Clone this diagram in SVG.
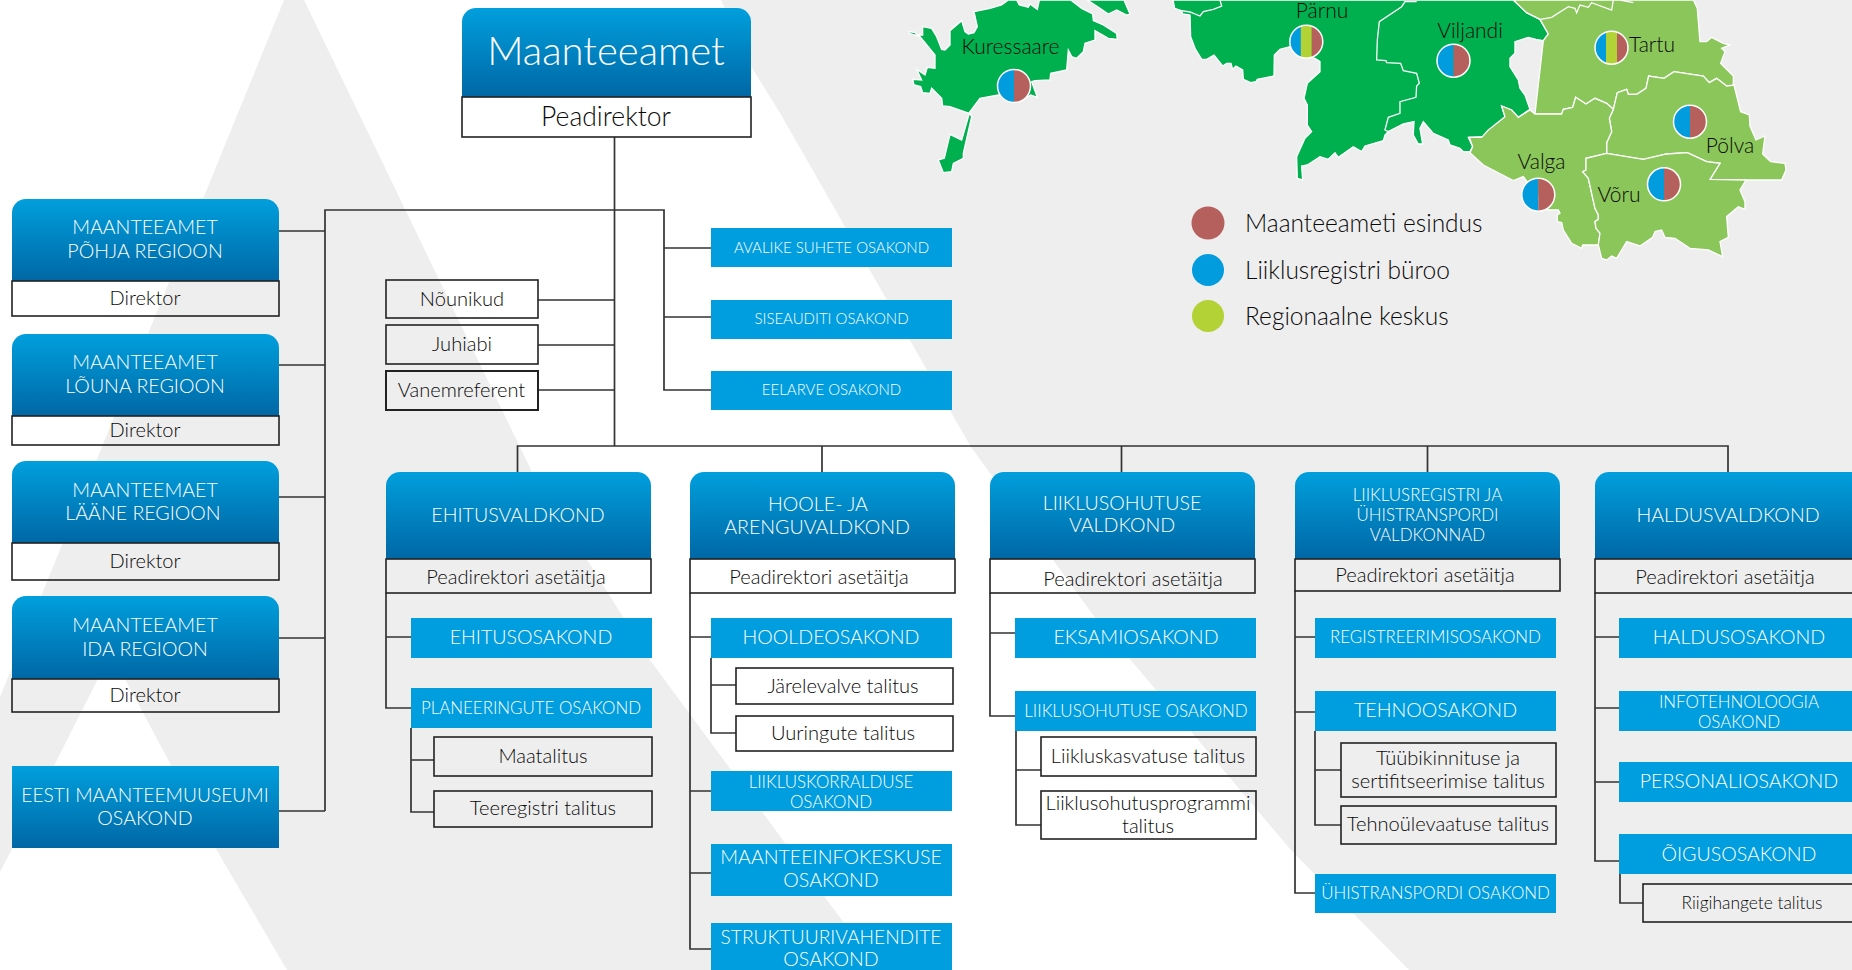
<svg xmlns="http://www.w3.org/2000/svg" width="1852" height="970" viewBox="0 0 1852 970">
<style>
text{font-family:"Lato","Noto Sans","Liberation Sans",sans-serif;font-weight:300;text-anchor:middle}
.w{fill:#fff}.k{fill:#0a0a0a}
.f40{font-size:40px}.f26{font-size:26.5px}.f20{font-size:19.6px}.f19{font-size:20.1px}.f21{font-size:21px}.fd{font-size:20px}.f17{font-size:16.9px}.f15{font-size:15px}.f24{font-size:24.5px;text-anchor:start}
.g{fill:url(#grad)}.b{fill:#009ddf}.o{fill:none;stroke:#222;stroke-width:1.6}
.c{fill:none;stroke:#333;stroke-width:1.7}
.m1{fill:#00b04f;stroke:#fff;stroke-width:1.3;vector-effect:non-scaling-stroke}
.m2{fill:#8ac65a;stroke:#fff;stroke-width:1.3;vector-effect:non-scaling-stroke}
.ml2{fill:none;stroke:#fff;stroke-width:1.3;vector-effect:non-scaling-stroke}
.mr{fill:#b5605c}.mb{fill:#009cde}.ml{fill:#b2d235}
.ring{fill:none;stroke:#fff;stroke-width:1.5}
</style>
<defs>
<linearGradient id="grad" x1="0" y1="0" x2="0" y2="1"><stop offset="0" stop-color="#009fdd"/><stop offset="1" stop-color="#0067a5"/></linearGradient>
<clipPath id="cc"><circle r="16.5"/></clipPath>
<g id="pie2"><g clip-path="url(#cc)"><rect x="-17" y="-17" width="17" height="34" class="mb"/><rect x="0" y="-17" width="17" height="34" class="mr"/></g><circle r="16.5" class="ring"/></g>
<g id="pie3"><g clip-path="url(#cc)"><rect x="-17" y="-17" width="12" height="34" class="mb"/><rect x="-5.5" y="-17" width="11" height="34" class="ml"/><rect x="5.5" y="-17" width="12" height="34" class="mr"/></g><circle r="16.5" class="ring"/></g>
</defs>
<rect width="1852" height="970" fill="#fff"/>
<g id="background" fill="#eeeeee">
<polygon points="284,0 304,0 532,472 650,660 844,923 880,970 287,970 216,849 111,653 12,849 0,872 0,697"/>
<polygon points="721,0 1852,0 1852,970 1409,970 1290,849 1156,690 1096,619 971,447 780,113 749,63"/>
</g>
<g id="map">
<g transform="translate(900 0) scale(0.3333)">
<polygon class="m1" points="28,95 45,98 52,105 68,105 68,80 95,85 110,110 125,148 135,150 150,135 150,92 185,62 195,95 205,102 222,98 232,80 222,35 270,25 305,15 325,0 350,0 358,15 385,22 390,12 412,28 418,0 512,0 545,25 578,42 580,62 610,75 650,100 652,118 625,115 585,92 585,120 555,130 550,155 530,175 515,170 505,150 500,210 452,220 450,240 405,242 395,245 412,292 392,285 375,295 345,305 295,285 240,295 208,338 215,350 190,460 190,475 160,490 155,515 130,518 115,480 133,475 150,403 185,420 208,340 150,320 128,318 125,295 95,265 90,280 68,278 62,260 42,255 38,238 65,240 50,208 75,225 82,202 105,205 105,165 60,110 28,100"/>
<polygon class="m1" points="562,0 672,0 690,42 680,45 650,30 625,42 600,25"/>
</g>
<g transform="translate(1170 0) scale(0.3333)">
<polygon class="m1" points="9,0 1030,0 1070,38 1110,58 1135,102 1120,122 1098,118 1075,112 1035,125 1035,160 1020,175 1020,200 1045,240 1050,265 1065,285 1080,328 1045,352 1025,330 995,318 1005,350 940,410 895,412 908,440 900,455 880,455 870,445 840,435 835,420 790,400 760,365 750,385 758,432 745,432 730,405 732,365 700,372 655,395 645,405 640,422 585,438 575,455 550,440 505,472 495,458 475,478 450,470 412,495 395,498 398,540 382,535 380,470 405,415 425,395 412,375 412,315 402,295 412,250 450,215 450,185 440,178 360,140 330,148 313,165 312,228 262,238 258,245 242,248 220,238 218,210 198,198 188,208 183,190 170,190 158,198 132,165 110,178 95,178 75,145 62,110 60,45 38,42 35,32 14,25"/>
<polyline class="ml2" points="35,32 60,36 90,48 100,35 130,28 155,18 150,0"/>
<polyline class="ml2" points="740,5 705,5 695,20 628,65 622,120 620,180 648,182 650,188 692,190 700,212 740,220 748,250 740,258 738,292 690,305 690,340 655,352 645,390 655,395"/>
</g>
<g transform="translate(1460 0) scale(0.3333)">
<polygon class="m2" points="160,0 700,0 712,25 720,125 740,125 755,112 790,130 810,135 785,145 795,155 782,190 820,228 820,258 800,258 770,235 748,248 730,228 642,215 612,235 566,228 558,265 530,283 505,283 500,268 472,278 460,328 440,310 405,295 378,312 347,292 338,322 310,328 305,342 225,342 250,122 265,102 240,58 200,38"/>
<polyline class="ml2" points="242,58 275,52 325,20 345,25 350,38 360,15 385,22 395,8 455,30 460,0"/>
<polyline class="ml2" points="480,0 520,8"/>
<polygon class="m2" points="460,328 472,278 500,268 505,283 530,283 558,265 566,228 612,235 642,215 730,228 748,248 770,235 800,258 822,255 842,335 868,345 870,378 888,420 915,408 908,462 932,485 975,490 978,510 965,540 858,540 750,538 780,490 740,485 682,458 620,462 550,478 440,460 440,428 455,395 448,355"/>
<polygon class="m2" points="210,330 225,342 305,342 310,328 338,322 347,292 378,312 405,295 440,310 460,328 448,355 455,395 440,428 440,460 378,475 378,510 368,515 385,535 405,625 415,645 415,658 405,665 408,685 420,700 415,735 368,735 365,745 335,730 310,690 305,668 292,665 292,645 300,640 295,630 265,630 190,530 160,542 70,495 30,458 38,440 28,412 65,412 85,390 135,350 125,318 155,330 175,352"/>
<polygon class="m2" points="440,460 550,478 620,462 682,458 740,485 780,490 750,538 858,540 840,570 855,605 855,628 835,620 800,650 805,712 780,725 788,770 745,750 690,745 645,715 615,712 605,690 585,695 578,712 540,738 500,725 470,775 455,768 440,780 425,775 415,735 420,700 408,685 405,665 415,658 415,645 405,625 385,535 368,515 378,510 378,475"/>
</g>
<use href="#pie2" x="1014" y="86"/>
<use href="#pie3" x="1306.3" y="41.7"/>
<use href="#pie2" x="1453.5" y="60.7"/>
<use href="#pie3" x="1611.5" y="47.7"/>
<use href="#pie2" x="1690" y="121.7"/>
<use href="#pie2" x="1538.3" y="194.7"/>
<use href="#pie2" x="1664" y="184.3"/>
<text class="k f21" x="1322" y="17.5">Pärnu</text>
<text class="k f21" x="1010.5" y="54">Kuressaare</text>
<text class="k f21" x="1470" y="37.5">Viljandi</text>
<text class="k f21" x="1652" y="52">Tartu</text>
<text class="k f21" x="1730" y="153">Põlva</text>
<text class="k f21" x="1541.5" y="169">Valga</text>
<text class="k f21" x="1619" y="201.5">Võru</text>
</g>
<g id="legend">
<circle class="mr" cx="1208" cy="223" r="16.5"/><text class="k f24" x="1245" y="232">Maanteeameti esindus</text>
<circle class="mb" cx="1208" cy="270" r="16"/><text class="k f24" x="1245" y="279">Liiklusregistri büroo</text>
<circle class="ml" cx="1208" cy="316" r="16"/><text class="k f24" x="1245" y="325">Regionaalne keskus</text>
</g>
<g id="connectors" class="c">
<path d="M614.5 137V446M325 811V210H664V390H711M664 248H711M664 317H711M538 300H614M538 345H614M538 390H614"/>
<path d="M279 231H325M279 365H325M279 497H325M279 638H325M279 811H325"/>
<path d="M517.5 473V446H1728V473M822 446V473M1121.5 446V473M1427.5 446V473"/>
<path d="M386 593V708H411M386 637H411M411 728V812H434M411 760H434"/>
<path d="M690 593V949H711M690 637H711M690 791H711M690 873H711M711 658V733H736M711 685H736"/>
<path d="M990 593V716H1015M990 633H1015M1016 731V825H1041M1016 770H1041"/>
<path d="M1295 591V893H1315M1295 637H1315M1295 712H1315M1315 731V825H1341M1315 770H1341"/>
<path d="M1595 593V861H1619M1595 637H1619M1595 708H1619M1595 782H1619M1620 874V903H1643"/>
</g>
<g id="n-maanteeamet">
<path class="g" d="M462 97V22a14 14 0 0 1 14-14H737a14 14 0 0 1 14 14V97Z"/>
<rect class="o" x="462" y="97" width="289" height="40"/>
<text class="w f40" x="606" y="65">Maanteeamet</text>
<text class="k f26" x="606" y="126">Peadirektor</text>
</g>
<g id="n-pohja">
<path class="g" d="M12 281V213a14 14 0 0 1 14-14H265a14 14 0 0 1 14 14V281Z"/>
<rect class="o" x="12" y="281" width="267" height="35"/>
<text class="w f20" x="145" y="234">MAANTEEAMET</text><text class="w f20" x="145" y="258">PÕHJA REGIOON</text>
<text class="k fd" x="145" y="305">Direktor</text>
</g>
<g id="n-louna">
<path class="g" d="M12 416V348a14 14 0 0 1 14-14H265a14 14 0 0 1 14 14V416Z"/>
<rect class="o" x="12" y="416" width="267" height="29"/>
<text class="w f20" x="145" y="369">MAANTEEAMET</text><text class="w f20" x="145" y="393">LÕUNA REGIOON</text>
<text class="k fd" x="145" y="437">Direktor</text>
</g>
<g id="n-laane">
<path class="g" d="M12 543V475a14 14 0 0 1 14-14H265a14 14 0 0 1 14 14V543Z"/>
<rect class="o" x="12" y="543" width="267" height="37"/>
<text class="w f20" x="145" y="497">MAANTEEMAET</text><text class="w f20" x="143" y="520">LÄÄNE REGIOON</text>
<text class="k fd" x="145" y="568">Direktor</text>
</g>
<g id="n-ida">
<path class="g" d="M12 679V610a14 14 0 0 1 14-14H265a14 14 0 0 1 14 14V679Z"/>
<rect class="o" x="12" y="679" width="267" height="33"/>
<text class="w f20" x="145" y="632">MAANTEEAMET</text><text class="w f20" x="145" y="656">IDA REGIOON</text>
<text class="k fd" x="145" y="702">Direktor</text>
</g>
<g id="n-muuseum">
<rect class="g" x="12" y="766" width="267" height="82"/>
<text class="w" style="font-size:19.2px" x="145" y="802">EESTI MAANTEEMUUSEUMI</text><text class="w f20" x="145" y="825">OSAKOND</text>
</g>
<g id="n-nounikud"><rect class="o" x="386" y="280" width="152" height="38"/><text class="k f19" x="462" y="306">Nõunikud</text></g>
<g id="n-juhiabi"><rect class="o" x="386" y="325" width="152" height="39"/><text class="k f19" x="462" y="351">Juhiabi</text></g>
<g id="n-vanemreferent"><rect class="o" style="stroke-width:2" x="386" y="371" width="152" height="39"/><text class="k fd" x="461.5" y="397">Vanemreferent</text></g>
<g id="n-avalike"><rect class="b" x="711" y="228" width="241" height="39"/><text class="w f15" x="831.5" y="253">AVALIKE SUHETE OSAKOND</text></g>
<g id="n-siseaudit"><rect class="b" x="711" y="300" width="241" height="39"/><text class="w f15" x="831.5" y="324">SISEAUDITI OSAKOND</text></g>
<g id="n-eelarve"><rect class="b" x="711" y="371" width="241" height="39"/><text class="w f15" x="831.5" y="395">EELARVE OSAKOND</text></g>

<g id="n-ehitus">
<path class="g" d="M386 559V486a14 14 0 0 1 14-14H637a14 14 0 0 1 14 14V559Z"/>
<rect class="o" x="386" y="559" width="265" height="34"/>
<text class="w f20" x="518" y="522">EHITUSVALDKOND</text><text class="k f19" x="516" y="584">Peadirektori asetäitja</text>
</g>
<g id="n-ehitusosakond"><rect class="b" x="411" y="618" width="241" height="40"/><text class="w f20" x="531" y="644">EHITUSOSAKOND</text></g>
<g id="n-planeeringute"><rect class="b" x="411" y="688" width="241" height="40"/><text class="w f17" x="531" y="714">PLANEERINGUTE OSAKOND</text></g>
<g id="n-maatalitus"><rect class="o" x="434" y="737" width="218" height="39"/><text class="k f19" x="543" y="763">Maatalitus</text></g>
<g id="n-teeregister"><rect class="o" x="434" y="791" width="218" height="36"/><text class="k f19" x="543" y="815">Teeregistri talitus</text></g>

<g id="n-hoole">
<path class="g" d="M690 559V486a14 14 0 0 1 14-14H941a14 14 0 0 1 14 14V559Z"/>
<rect class="o" x="690" y="559" width="265" height="34"/>
<text class="w f20" x="818" y="511">HOOLE- JA</text><text class="w f20" x="817" y="534">ARENGUVALDKOND</text><text class="k f19" x="819" y="584">Peadirektori asetäitja</text>
</g>
<g id="n-hoolde"><rect class="b" x="711" y="618" width="241" height="40"/><text class="w f20" x="831" y="644">HOOLDEOSAKOND</text></g>
<g id="n-jarelevalve"><rect class="o" x="736" y="668" width="217" height="36"/><text class="k f19" x="843" y="693">Järelevalve talitus</text></g>
<g id="n-uuringute"><rect class="o" x="736" y="716" width="217" height="35"/><text class="k f19" x="843" y="740">Uuringute talitus</text></g>
<g id="n-liikluskorraldus"><rect class="b" x="711" y="771" width="241" height="40"/><text class="w f17" x="831" y="788">LIIKLUSKORRALDUSE</text><text class="w f17" x="831" y="808">OSAKOND</text></g>
<g id="n-maanteeinfo"><rect class="b" x="711" y="844" width="241" height="52"/><text class="w f20" x="831" y="864">MAANTEEINFOKESKUSE</text><text class="w f20" x="831" y="887">OSAKOND</text></g>
<g id="n-struktuuri"><rect class="b" x="711" y="923" width="241" height="47"/><text class="w" style="font-size:19.2px" x="831" y="944">STRUKTUURIVAHENDITE</text><text class="w f20" x="831" y="966">OSAKOND</text></g>

<g id="n-liiklusohutus">
<path class="g" d="M990 559V486a14 14 0 0 1 14-14H1241a14 14 0 0 1 14 14V559Z"/>
<rect class="o" x="990" y="559" width="265" height="34"/>
<text class="w f20" x="1122" y="510">LIIKLUSOHUTUSE</text><text class="w f20" x="1122" y="532">VALDKOND</text><text class="k f19" x="1133" y="585.5">Peadirektori asetäitja</text>
</g>
<g id="n-eksami"><rect class="b" x="1015" y="618" width="241" height="40"/><text class="w f20" x="1136" y="644">EKSAMIOSAKOND</text></g>
<g id="n-liiklusohutus-os"><rect class="b" x="1015" y="691" width="241" height="40"/><text class="w f17" x="1136" y="717">LIIKLUSOHUTUSE OSAKOND</text></g>
<g id="n-liikluskasvatus"><rect class="o" x="1041" y="737" width="215" height="39"/><text class="k f19" x="1148" y="763">Liikluskasvatuse talitus</text></g>
<g id="n-programmi"><rect class="o" x="1041" y="791" width="215" height="48"/><text class="k f19" x="1148" y="810">Liiklusohutusprogrammi</text><text class="k f19" x="1148" y="833">talitus</text></g>

<g id="n-liiklusregister">
<path class="g" d="M1295 559V486a14 14 0 0 1 14-14H1546a14 14 0 0 1 14 14V559Z"/>
<rect class="o" x="1295" y="559" width="265" height="32"/>
<text class="w f17" x="1427.5" y="501">LIIKLUSREGISTRI JA</text><text class="w f17" x="1427.5" y="521">ÜHISTRANSPORDI</text><text class="w f17" x="1427.5" y="541">VALDKONNAD</text><text class="k f19" x="1425" y="581.5">Peadirektori asetäitja</text>
</g>
<g id="n-registreerimis"><rect class="b" x="1315" y="618" width="241" height="40"/><text class="w f17" x="1435.5" y="643">REGISTREERIMISOSAKOND</text></g>
<g id="n-tehno"><rect class="b" x="1315" y="691" width="241" height="40"/><text class="w f20" x="1435.5" y="717">TEHNOOSAKOND</text></g>
<g id="n-tyybikinnitus"><rect class="o" x="1341" y="743" width="215" height="54"/><text class="k f19" x="1448" y="765">Tüübikinnituse ja</text><text class="k f19" x="1448" y="788">sertifitseerimise talitus</text></g>
<g id="n-tehnoulevaatus"><rect class="o" x="1341" y="806" width="215" height="38"/><text class="k f19" x="1448" y="831">Tehnoülevaatuse talitus</text></g>
<g id="n-yhistransport"><rect class="b" x="1315" y="874" width="241" height="39"/><text class="w f17" x="1435.5" y="899">ÜHISTRANSPORDI OSAKOND</text></g>

<g id="n-haldus">
<path class="g" d="M1595 559V486a14 14 0 0 1 14-14H1865V559Z"/>
<rect class="o" x="1595" y="559" width="270" height="34"/>
<text class="w f20" x="1728" y="522">HALDUSVALDKOND</text><text class="k f19" x="1725" y="584">Peadirektori asetäitja</text>
</g>
<g id="n-haldusosakond"><rect class="b" x="1619" y="618" width="241" height="40"/><text class="w f20" x="1739" y="644">HALDUSOSAKOND</text></g>
<g id="n-info"><rect class="b" x="1619" y="691" width="241" height="40"/><text class="w f17" x="1739" y="708">INFOTEHNOLOOGIA</text><text class="w f17" x="1739" y="728">OSAKOND</text></g>
<g id="n-personal"><rect class="b" x="1619" y="762" width="241" height="40"/><text class="w f20" x="1739" y="788">PERSONALIOSAKOND</text></g>
<g id="n-oigus"><rect class="b" x="1619" y="834" width="241" height="40"/><text class="w f20" x="1739" y="861">ÕIGUSOSAKOND</text></g>
<g id="n-riigihange"><rect class="o" x="1643" y="884" width="220" height="38"/><text class="k" style="font-size:17.4px" x="1752" y="909">Riigihangete talitus</text></g>
</svg>
